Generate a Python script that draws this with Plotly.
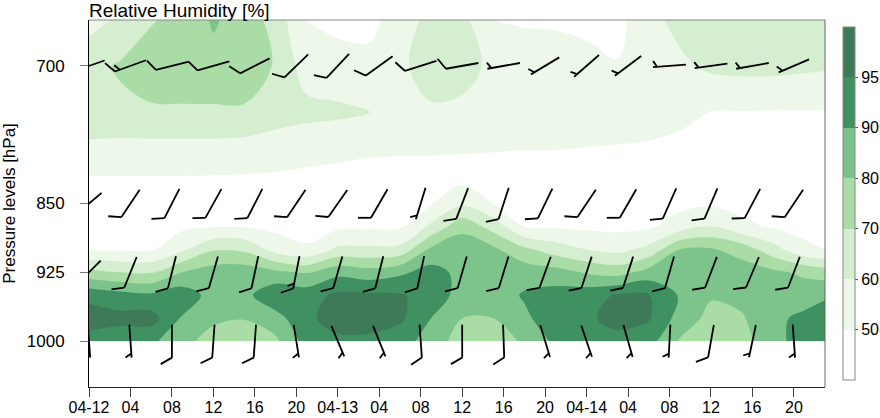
import numpy as np
import plotly.graph_objects as go

# time axis: hours after 04-12 00 UTC
HOURS = list(range(0, 73, 3))
LEVELS = [650, 700, 750, 800, 825, 850, 875, 900, 925, 950, 975, 1000]

# relative humidity (%), one row per time step, values for LEVELS (top -> bottom)
RH_COLUMNS = [
    [56, 67, 69, 54, 45, 35, 40, 46, 73, 93.5, 97.5, 93],  # 00
    [62, 71, 68, 54, 45, 35, 39, 45, 70, 92, 96.5, 92],    # 03
    [69, 76, 68.5, 54, 45, 34, 38, 44, 69, 91, 97, 91],    # 06
    [74, 77, 68.5, 54, 45, 35, 40, 58, 80, 93, 89, 83],    # 09
    [81, 77.5, 68.5, 54, 44, 35, 46, 69, 85, 86, 82, 76],  # 12
    [76, 77, 68.5, 53, 44, 33, 47, 68, 86, 87, 80.5, 74],  # 15
    [66, 69, 65, 52, 44, 32, 38, 56, 82, 94, 86, 78],      # 18
    [47, 55, 63, 51, 43, 30, 36, 51, 79, 93, 94, 92],      # 21
    [40, 53, 62, 50.5, 42, 28, 40, 62, 87, 96, 97, 94],    # 04-13 00
    [40, 52, 60.5, 50, 42, 28, 42, 62, 84, 96, 97, 94],    # 03
    [53, 57, 57, 49, 41, 30, 42, 63, 88, 95.5, 96, 92],    # 06
    [64, 67, 58, 48, 41, 47, 62, 82, 92, 93, 90, 86],      # 09
    [63, 65, 57, 47, 40, 58, 77, 86, 87, 86, 80, 75],      # 12
    [48, 57, 56, 46, 36, 50, 66, 82, 86, 85, 80, 73],      # 15
    [45, 55, 55, 45, 36, 36, 48, 72, 86, 90.5, 88, 82],    # 18
    [44, 54, 55, 45, 35, 30, 44, 65, 84, 92, 93, 91],      # 21
    [42, 52, 54, 44, 34, 28, 40, 60, 79, 93, 94, 92],      # 04-14 00
    [35, 50.5, 53, 44, 34, 27, 38, 57, 76, 95.5, 97, 93],  # 03
    [57, 54, 52, 44, 34, 28, 42, 63, 84, 95.3, 95.5, 92],  # 06
    [63, 58, 51, 43, 35, 36, 55, 80, 87, 89, 86, 79],      # 09
    [66, 62, 50, 43, 36, 42, 60, 81, 86, 81, 77, 74],      # 12
    [67, 63, 49, 43, 36, 36, 52, 76, 85, 83, 79, 76],      # 15
    [67, 63, 48, 42, 34, 30, 45, 64, 82, 86, 88, 87],      # 18
    [65, 62, 48, 42, 33, 28, 36, 52, 78, 86, 91, 92],      # 21
    [63, 61, 47, 41, 32, 26, 33, 45, 74, 90, 93, 93],      # 04-15 00
]

RH_LEVELS = [50, 60, 70, 80, 90, 95]
RH_COLORS = ["#ffffff", "#edf8ea", "#d5eecf", "#aadda6", "#7cc48b", "#3f9162", "#3e7a58"]

# wind barbs every 4 h
BARB_HOURS = list(range(0, 69, 4))
BARB_LEVELS = [700, 850, 925, 1000]
WDIR_700 = [251, 250, 256, 254, 243, 226, 223, 234, 252, 260, 260, 239, 229, 233, 266, 262, 260, 247]
WSPD_700 = [10, 15, 10, 10, 10, 10, 10, 10, 10, 10, 5, 5, 5, 5, 5, 5, 5, 5]
WDIR_850 = [230, 214, 207, 209, 207, 214, 215, 210, 197, 201, 198, 206, 214, 210, 204, 203, 208, 214]
WSPD_850 = [10, 10, 10, 10, 10, 10, 10, 10, 5, 10, 10, 10, 10, 10, 10, 10, 10, 10]
WDIR_925 = [225, 202, 194, 196, 192, 191, 196, 194, 192, 196, 197, 200, 198, 198, 196, 201, 203, 201]
WSPD_925 = [10, 10, 10, 10, 10, 15, 10, 10, 10, 10, 10, 10, 10, 10, 10, 10, 10, 10]
WDIR_1000 = [176, 176, 180, 184, 184, 171, 157, 158, 176, 180, 178, 163, 161, 164, 183, 190, 192, 176]
WSPD_1000 = [5, 5, 10, 10, 10, 5, 5, 5, 10, 10, 10, 5, 5, 5, 5, 10, 5, 5]

TICK_TEXT = ["04-12", "04", "08", "12", "16", "20",
             "04-13", "04", "08", "12", "16", "20",
             "04-14", "04", "08", "12", "16", "20"]

W, H = 880, 418
MARGIN = dict(l=89, r=55, t=20, b=31, autoexpand=False)
X_RANGE = [0, 71]
P_RANGE = [1050, 650]
FONT = "Liberation Sans, Arial, sans-serif"

plot_w = W - MARGIN["l"] - MARGIN["r"]
plot_h = H - MARGIN["t"] - MARGIN["b"]
px_per_h = plot_w / (X_RANGE[1] - X_RANGE[0])
px_per_hpa = plot_h / (P_RANGE[0] - P_RANGE[1])

# barb geometry in screen pixels
STAFF, FULL, HALF, GAP = 33, 13, 7, 5


def barb_segments(hours, level, dirs, speeds):
    xs, ys = [], []

    def to_data(h, p, east, north):
        return h + east / px_per_h, p - north / px_per_hpa

    for h, d, sp in zip(hours, dirs, speeds):
        a = np.radians(d)
        se, sn = np.sin(a), np.cos(a)          # towards where the wind comes from
        b = np.radians(d + 60)
        fe, fn = np.sin(b), np.cos(b)          # feather direction
        x0, y0 = to_data(h, level, -se * STAFF / 2, -sn * STAFF / 2)
        x1, y1 = to_data(h, level, se * STAFF / 2, sn * STAFF / 2)
        xs += [x0, x1, None]
        ys += [y0, y1, None]
        nfull, half = int(sp // 10), (sp % 10) >= 5
        pos = 0.0
        for _ in range(nfull):
            bx, by = se * (STAFF / 2 - pos), sn * (STAFF / 2 - pos)
            p0 = to_data(h, level, bx, by)
            p1 = to_data(h, level, bx + fe * FULL, by + fn * FULL)
            xs += [p0[0], p1[0], None]
            ys += [p0[1], p1[1], None]
            pos += GAP
        if half:
            if nfull == 0:
                pos = 4
            bx, by = se * (STAFF / 2 - pos), sn * (STAFF / 2 - pos)
            p0 = to_data(h, level, bx, by)
            p1 = to_data(h, level, bx + fe * HALF, by + fn * HALF)
            xs += [p0[0], p1[0], None]
            ys += [p0[1], p1[1], None]
    return xs, ys


rh = np.array(RH_COLUMNS, dtype=float).T
# map RH onto colour-band index so the uneven levels (..90, 95) get equal colorbar boxes
band = np.interp(rh, [0] + RH_LEVELS + [100], list(range(len(RH_LEVELS) + 2)))

n = len(RH_COLORS)
colorscale = []
for i, c in enumerate(RH_COLORS):
    colorscale += [[i / n, c], [(i + 1) / n, c]]

fig = go.Figure()
fig.add_trace(go.Contour(
    x=HOURS, y=LEVELS, z=band,
    zmin=0, zmax=n, zauto=False,
    colorscale=colorscale,
    contours=dict(start=1, end=len(RH_LEVELS), size=1, coloring="fill", showlines=False),
    line=dict(width=0),
    hoverinfo="skip",
    colorbar=dict(
        x=1 + 18 / plot_w, xanchor="left", xpad=0,
        y=1 - 7 / plot_h, yanchor="top", ypad=0,
        lenmode="pixels", len=353, thickness=12,
        outlinecolor="#888888", outlinewidth=1,
        tickmode="array", tickvals=list(range(1, len(RH_LEVELS) + 1)),
        ticktext=[str(v) for v in RH_LEVELS],
        ticks="outside", ticklen=3, tickcolor="#555555",
        tickfont=dict(size=16, color="black", family=FONT),
    ),
))

wind = {700: (WDIR_700, WSPD_700), 850: (WDIR_850, WSPD_850),
        925: (WDIR_925, WSPD_925), 1000: (WDIR_1000, WSPD_1000)}
bx, by = [], []
for lev in BARB_LEVELS:
    sx, sy = barb_segments(BARB_HOURS, lev, *wind[lev])
    bx += sx
    by += sy
fig.add_trace(go.Scatter(x=bx, y=by, mode="lines", line=dict(color="black", width=1.8),
                         hoverinfo="skip", showlegend=False))

fig.update_layout(
    width=W, height=H, margin=MARGIN,
    paper_bgcolor="white", plot_bgcolor="white",
    font=dict(family=FONT, size=17, color="black"),
    title=dict(text="Relative Humidity [%]", x=MARGIN["l"] / W, xanchor="left",
               y=1 - 10 / H, yanchor="middle", font=dict(size=19)),
    showlegend=False,
    shapes=[
        dict(type="line", xref="paper", yref="paper", x0=0, x1=1, y0=1, y1=1,
             line=dict(color="#888888", width=1)),
        dict(type="line", xref="paper", yref="paper", x0=1, x1=1, y0=0, y1=1,
             line=dict(color="#666666", width=1)),
    ],
)
fig.update_xaxes(range=X_RANGE, tickmode="array", tickvals=BARB_HOURS, ticktext=TICK_TEXT,
                 ticks="outside", ticklen=9, tickcolor="#444444", showline=True,
                 linecolor="#222222", linewidth=1, showgrid=False, zeroline=False,
                 automargin=False, ticklabelstandoff=-3, tickfont=dict(size=16))
fig.update_yaxes(range=P_RANGE, tickmode="array", tickvals=[700, 850, 925, 1000],
                 ticks="outside", ticklen=8, tickcolor="#777777", showline=True,
                 linecolor="black", linewidth=1, showgrid=False, zeroline=False,
                 automargin=False, ticklabelstandoff=12, tickfont=dict(size=17),
                 title=dict(text="Pressure levels [hPa]", standoff=10, font=dict(size=17)))

# the page's default 8px body margin would shift the figure inside the window
fig.write_html("out.html", config={"displayModeBar": False},
               post_script="document.body.style.margin='0px';document.body.style.overflow='hidden';")
